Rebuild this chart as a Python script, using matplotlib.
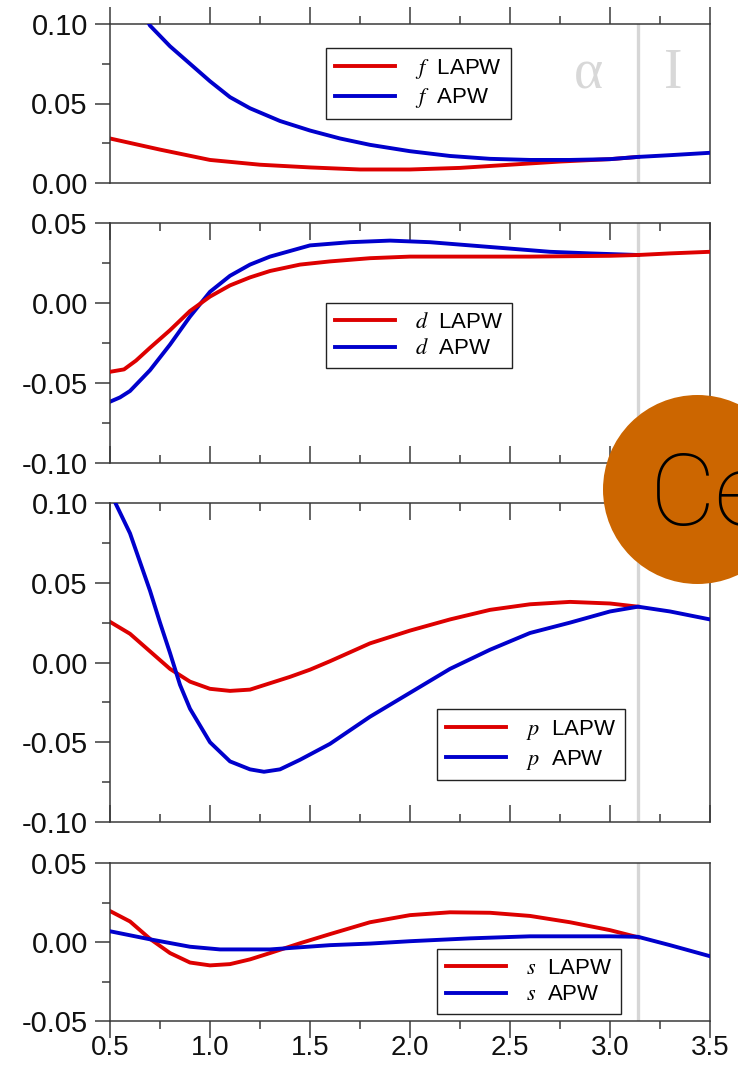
import numpy as np
import matplotlib
matplotlib.use("Agg")
import matplotlib.pyplot as plt
from matplotlib.patches import Ellipse
from matplotlib.ticker import MultipleLocator, FormatStrFormatter

plt.rcParams['font.family'] = ['Liberation Sans', 'DejaVu Sans']
plt.rcParams['mathtext.fontset'] = 'stix'
plt.rcParams['axes.unicode_minus'] = False

# ---------------- data ----------------
f_lapw_x = [0.5, 0.75, 1.0, 1.25, 1.5, 1.75, 2.0, 2.25, 2.5, 2.75, 3.0, 3.14]
f_lapw_y = [0.028, 0.021, 0.0145, 0.0115, 0.0098, 0.0085, 0.0085, 0.0095, 0.0115, 0.0135, 0.015, 0.0164]
f_apw_x = [0.5, 0.6, 0.7, 0.8, 0.9, 1.0, 1.1, 1.2, 1.35, 1.5, 1.65, 1.8, 2.0, 2.2, 2.4, 2.6, 2.8, 3.0, 3.14, 3.3, 3.5]
f_apw_y = [0.150, 0.122, 0.099, 0.086, 0.075, 0.064, 0.054, 0.047, 0.039, 0.033, 0.028, 0.024, 0.020, 0.017,
           0.0152, 0.0145, 0.0145, 0.015, 0.0164, 0.0175, 0.019]

d_lapw_x = [0.5, 0.57, 0.63, 0.7, 0.8, 0.9, 1.0, 1.1, 1.2, 1.3, 1.45, 1.6, 1.8, 2.0, 2.3, 2.6, 3.0, 3.14, 3.3, 3.5]
d_lapw_y = [-0.043, -0.0415, -0.036, -0.028, -0.017, -0.005, 0.004, 0.011, 0.016, 0.020, 0.024, 0.026, 0.028,
            0.029, 0.029, 0.029, 0.0295, 0.030, 0.031, 0.032]
d_apw_x = [0.5, 0.55, 0.6, 0.7, 0.8, 0.9, 1.0, 1.1, 1.2, 1.3, 1.5, 1.7, 1.9, 2.1, 2.3, 2.5, 2.7, 2.9, 3.14]
d_apw_y = [-0.0617, -0.059, -0.055, -0.042, -0.026, -0.0085, 0.007, 0.017, 0.024, 0.029, 0.036, 0.038, 0.039,
           0.038, 0.036, 0.034, 0.032, 0.031, 0.030]

p_lapw_x = [0.5, 0.6, 0.7, 0.8, 0.9, 1.0, 1.1, 1.2, 1.3, 1.4, 1.5, 1.6, 1.8, 2.0, 2.2, 2.4, 2.6, 2.8, 3.0, 3.14]
p_lapw_y = [0.0255, 0.018, 0.007, -0.004, -0.012, -0.0165, -0.0178, -0.017, -0.013, -0.009, -0.0045, 0.0008,
            0.012, 0.020, 0.027, 0.033, 0.0365, 0.038, 0.037, 0.035]
p_apw_x = [0.5, 0.55, 0.6, 0.65, 0.7, 0.75, 0.8, 0.85, 0.9, 1.0, 1.1, 1.2, 1.27, 1.35, 1.45, 1.6, 1.8, 2.0,
           2.2, 2.4, 2.6, 2.8, 3.0, 3.14, 3.3, 3.5]
p_apw_y = [0.107, 0.094, 0.081, 0.063, 0.045, 0.025, 0.006, -0.014, -0.029, -0.050, -0.062, -0.067, -0.0685,
           -0.067, -0.061, -0.051, -0.034, -0.019, -0.004, 0.008, 0.0185, 0.025, 0.032, 0.035, 0.032, 0.027]

s_lapw_x = [0.5, 0.6, 0.7, 0.8, 0.9, 1.0, 1.1, 1.2, 1.3, 1.45, 1.6, 1.8, 2.0, 2.2, 2.4, 2.6, 2.8, 3.0, 3.14]
s_lapw_y = [0.0196, 0.013, 0.002, -0.007, -0.013, -0.0148, -0.014, -0.011, -0.007, -0.0008, 0.005, 0.0125,
            0.017, 0.0188, 0.0185, 0.0165, 0.0125, 0.0075, 0.003]
s_apw_x = [0.5, 0.7, 0.9, 1.05, 1.3, 1.6, 1.8, 2.0, 2.3, 2.6, 3.0, 3.14, 3.3, 3.5]
s_apw_y = [0.0068, 0.0017, -0.003, -0.0047, -0.0047, -0.002, -0.001, 0.0005, 0.0023, 0.0036, 0.0036, 0.0033,
           -0.002, -0.009]

panels = [
    dict(lbl='f', lx=f_lapw_x, ly=f_lapw_y, ax_=f_apw_x, ay=f_apw_y, ylim=(0.0, 0.10), apw_top=True,
         rect=[110, 24, 710, 183], leg=(0.36, 0.849), top='out', bottom=None),
    dict(lbl='d', lx=d_lapw_x, ly=d_lapw_y, ax_=d_apw_x, ay=d_apw_y, ylim=(-0.10, 0.05), apw_top=False,
         rect=[110, 223, 710, 463], leg=(0.36, 0.667), top='in', bottom='in'),
    dict(lbl='p', lx=p_lapw_x, ly=p_lapw_y, ax_=p_apw_x, ay=p_apw_y, ylim=(-0.10, 0.10), apw_top=True,
         rect=[110, 503, 710, 822], leg=(0.545, 0.354), top='in', bottom='in'),
    dict(lbl='s', lx=s_lapw_x, ly=s_lapw_y, ax_=s_apw_x, ay=s_apw_y, ylim=(-0.05, 0.05), apw_top=True,
         rect=[110, 863, 710, 1021], leg=(0.545, 0.456), top=None, bottom='out'),
]

W, H = 738, 1071
fig = plt.figure(figsize=(W / 100, H / 100), dpi=100)
RED = '#dd0000'
BLUE = '#0000cc'
SPINE = '#3a3a3a'

axes = []
for i, p in enumerate(panels):
    x0, y0, x1, y1 = p['rect']
    ax = fig.add_axes([x0 / W, 1 - y1 / H, (x1 - x0) / W, (y1 - y0) / H])
    axes.append(ax)
    ax.axvline(np.pi, color='#d6d6d6', lw=2.4, zorder=1)
    zr, zb = (2, 3) if p['apw_top'] else (3, 2)
    ax.plot(p['lx'], p['ly'], color=RED, lw=2.8, zorder=zr, label=f"${p['lbl']}$  LAPW",
            solid_joinstyle='round')
    ax.plot(p['ax_'], p['ay'], color=BLUE, lw=2.8, zorder=zb, label=f"${p['lbl']}$  APW",
            solid_joinstyle='round')
    ax.set_xlim(0.5, 3.5)
    ax.set_ylim(*p['ylim'])
    for sp in ax.spines.values():
        sp.set_color(SPINE)
        sp.set_linewidth(1.1)
    ax.yaxis.set_major_locator(MultipleLocator(0.05))
    ax.yaxis.set_minor_locator(MultipleLocator(0.025))
    ax.yaxis.set_major_formatter(FormatStrFormatter('%.2f'))
    ax.tick_params(axis='y', which='both', direction='out', left=True, right=False,
                   labelsize=21, pad=5, colors=SPINE, labelcolor='#111111')
    ax.tick_params(axis='y', which='major', length=11, width=1.1)
    ax.tick_params(axis='y', which='minor', length=5.5, width=1.1)
    ax.xaxis.set_major_locator(MultipleLocator(0.5))
    ax.xaxis.set_minor_locator(MultipleLocator(0.25))
    if p['top'] and p['bottom']:
        ax.tick_params(axis='x', which='both', direction=p['top'], top=True, bottom=True,
                       labelbottom=False, colors=SPINE)
    elif p['top']:
        ax.tick_params(axis='x', which='both', direction=p['top'], top=True, bottom=False,
                       labelbottom=False, colors=SPINE)
    else:
        ax.tick_params(axis='x', which='both', direction=p['bottom'], top=False, bottom=True,
                       labelbottom=True, colors=SPINE, labelcolor='#111111', pad=-2,
                       labelsize=20)
        ax.xaxis.set_major_formatter(FormatStrFormatter('%.1f'))
    ax.tick_params(axis='x', which='major', length=12, width=1.1)
    ax.tick_params(axis='x', which='minor', length=6, width=1.1)
    leg = ax.legend(loc='upper left', bbox_to_anchor=p['leg'], borderaxespad=0, fontsize=16,
                    frameon=True, fancybox=False, framealpha=1, edgecolor='#222222',
                    handlelength=2.7, handletextpad=0.9, labelspacing=0.25, borderpad=0.4)
    leg.get_frame().set_linewidth(1.0)
    leg.set_zorder(5)

# alpha / I region labels
axes[0].text(2.89, 0.0597, 'α', family='Liberation Serif', fontsize=40, color='#d8d8d8',
             ha='center', va='baseline', zorder=1)
axes[0].text(3.315, 0.0597, 'I', family='Liberation Serif', fontsize=40, color='#d8d8d8',
             ha='center', va='baseline', zorder=1)

# Ce badge
fig.add_artist(Ellipse((697.5 / W, 1 - 489.5 / H), 189 / W, 189 / H, transform=fig.transFigure,
                       facecolor='#cc6600', edgecolor='none', zorder=10))
fig.text(650 / W, 1 - 525 / H, 'Ce', family=['Roboto', 'Liberation Sans'], fontweight='light',
         fontsize=73, color='black', ha='left', va='baseline', zorder=11)

fig.savefig('out.png', dpi=100)
